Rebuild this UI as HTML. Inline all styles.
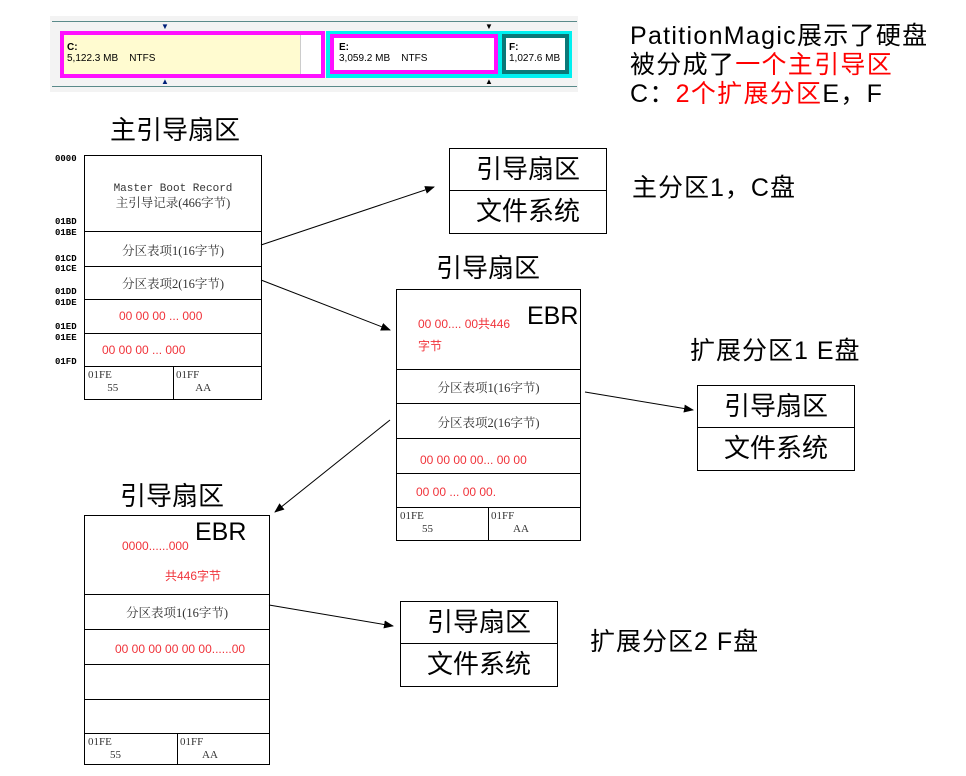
<!DOCTYPE html>
<html><head><meta charset="utf-8"><style>
*{margin:0;padding:0;box-sizing:border-box}
body{width:966px;height:776px;background:#fff;position:relative;overflow:hidden;font-family:"Liberation Sans","Noto Sans CJK SC",sans-serif;color:#000}
.a{position:absolute}
.box{position:absolute;border:1px solid #000;background:#fff}
.hl{position:absolute;left:0;right:0;border-top:1px solid #000}
.t{position:absolute;white-space:nowrap}
.s{font-family:"Liberation Serif","Noto Serif CJK SC",serif;font-size:12.5px;color:#333}
.r{color:#f0333a;font-size:12px}
.ad{font-family:"Liberation Mono",monospace;font-size:9px;font-weight:bold;position:absolute}
.big{font-size:26px}
.sb{position:absolute;border:1px solid #000;font-size:26px;text-align:center}
.sb div{height:42px;line-height:40px}
</style></head><body>
<!-- partition bar -->
<div class="a" style="left:50px;top:16px;width:528px;height:76px;background:#f3f3f3"></div>
<div class="a" style="left:52px;top:21px;width:525px;border-top:1px solid #5a8a8a"></div>
<div class="a" style="left:52px;top:86px;width:525px;border-top:1px solid #5a8a8a"></div>
<div class="a" style="left:60px;top:31px;width:265px;height:47px;border:4px solid #ff10ff;background:#fffbd0"></div>
<div class="a" style="left:300px;top:35px;width:21px;height:39px;background:#fff;border-left:1px solid #ccc"></div>
<div class="t" style="left:67px;top:42px;font-size:10px;line-height:11px"><b>C:</b><br>5,122.3 MB&nbsp;&nbsp;&nbsp; NTFS</div>
<div class="a" style="left:326px;top:31px;width:246px;height:47px;background:#00f0f0"></div>
<div class="a" style="left:330px;top:34px;width:168px;height:40px;border:4px solid #ff10ff;background:#fff"></div>
<div class="t" style="left:339px;top:42px;font-size:10px;line-height:11px"><b>E:</b><br>3,059.2 MB&nbsp;&nbsp;&nbsp; NTFS</div>
<div class="a" style="left:502px;top:34px;width:67px;height:40px;border:4px solid #0a7878;background:#fff"></div>
<div class="t" style="left:509px;top:42px;font-size:10px;line-height:11px"><b>F:</b><br>1,027.6 MB</div>
<div class="t" style="left:161px;top:22px;font-size:8px;color:#00207a">▼</div>
<div class="t" style="left:161px;top:77px;font-size:8px;color:#00207a">▲</div>
<div class="t" style="left:485px;top:22px;font-size:8px">▼</div>
<div class="t" style="left:485px;top:77px;font-size:8px">▲</div>

<!-- top right text -->
<div class="t" style="left:630px;top:22px;line-height:29px;font-size:25px;letter-spacing:1.3px">PatitionMagic展示了硬盘<br>被分成了<span style="color:#f00">一个主引导区</span><br>C：<span style="color:#f00">2个扩展分区</span>E，F</div>

<div class="t big" style="left:110px;top:110px">主引导扇区</div>
<div class="t big" style="left:436px;top:248px">引导扇区</div>
<div class="t big" style="left:120px;top:476px">引导扇区</div>

<!-- MBR -->
<div class="box" style="left:84px;top:155px;width:178px;height:245px">
<div class="hl" style="top:75px"></div><div class="hl" style="top:110px"></div><div class="hl" style="top:143px"></div><div class="hl" style="top:177px"></div><div class="hl" style="top:210px"></div>
<div class="a" style="left:88px;top:210px;height:34px;border-left:1px solid #000"></div>
<div class="t s" style="left:0;width:176px;text-align:center;top:24px;line-height:14px"><span style="font-family:'Liberation Mono',monospace;font-size:11px">Master Boot Record</span><br>主引导记录(466字节)</div>
<div class="t s" style="left:0;width:176px;text-align:center;top:85px">分区表项1(16字节)</div>
<div class="t s" style="left:0;width:176px;text-align:center;top:118px">分区表项2(16字节)</div>
<div class="t r" style="left:34px;top:153px">00 00 00 ... 000</div>
<div class="t r" style="left:17px;top:187px">00 00 00 ... 000</div>
<div class="t s" style="left:3px;top:213px;line-height:13px;font-size:11px">01FE<br>&nbsp;&nbsp;&nbsp;&nbsp;&nbsp;&nbsp;&nbsp;55</div>
<div class="t s" style="left:91px;top:213px;line-height:13px;font-size:11px">01FF<br>&nbsp;&nbsp;&nbsp;&nbsp;&nbsp;&nbsp;&nbsp;AA</div>
</div>
<div class="ad" style="left:55px;top:154px">0000</div>
<div class="ad" style="left:55px;top:217px">01BD</div>
<div class="ad" style="left:55px;top:228px">01BE</div>
<div class="ad" style="left:55px;top:254px">01CD</div>
<div class="ad" style="left:55px;top:264px">01CE</div>
<div class="ad" style="left:55px;top:287px">01DD</div>
<div class="ad" style="left:55px;top:298px">01DE</div>
<div class="ad" style="left:55px;top:322px">01ED</div>
<div class="ad" style="left:55px;top:333px">01EE</div>
<div class="ad" style="left:55px;top:357px">01FD</div>

<!-- EBR1 -->
<div class="box" style="left:396px;top:289px;width:185px;height:252px">
<div class="hl" style="top:79px"></div><div class="hl" style="top:113px"></div><div class="hl" style="top:148px"></div><div class="hl" style="top:183px"></div><div class="hl" style="top:217px"></div>
<div class="a" style="left:91px;top:217px;height:34px;border-left:1px solid #000"></div>
<div class="t r" style="left:21px;top:23px;line-height:22px">00 00.... 00共446<br>字节</div>
<div class="t" style="left:130px;top:12px;font-size:25px">EBR</div>
<div class="t s" style="left:0;width:183px;text-align:center;top:88px">分区表项1(16字节)</div>
<div class="t s" style="left:0;width:183px;text-align:center;top:123px">分区表项2(16字节)</div>
<div class="t r" style="left:23px;top:163px">00 00 00 00... 00 00</div>
<div class="t r" style="left:19px;top:195px">00 00 ... 00 00.</div>
<div class="t s" style="left:3px;top:220px;line-height:13px;font-size:11px">01FE<br>&nbsp;&nbsp;&nbsp;&nbsp;&nbsp;&nbsp;&nbsp;&nbsp;55</div>
<div class="t s" style="left:94px;top:220px;line-height:13px;font-size:11px">01FF<br>&nbsp;&nbsp;&nbsp;&nbsp;&nbsp;&nbsp;&nbsp;&nbsp;AA</div>
</div>

<!-- EBR2 -->
<div class="box" style="left:84px;top:515px;width:186px;height:250px">
<div class="hl" style="top:78px"></div><div class="hl" style="top:113px"></div><div class="hl" style="top:148px"></div><div class="hl" style="top:183px"></div><div class="hl" style="top:217px"></div>
<div class="a" style="left:92px;top:217px;height:32px;border-left:1px solid #000"></div>
<div class="t r" style="left:37px;top:23px">0000......000</div>
<div class="t r" style="left:80px;top:51px">共446字节</div>
<div class="t" style="left:110px;top:2px;font-size:25px">EBR</div>
<div class="t s" style="left:0;width:184px;text-align:center;top:87px">分区表项1(16字节)</div>
<div class="t r" style="left:30px;top:126px">00 00 00 00 00 00......00</div>
<div class="t s" style="left:3px;top:220px;line-height:13px;font-size:11px">01FE<br>&nbsp;&nbsp;&nbsp;&nbsp;&nbsp;&nbsp;&nbsp;&nbsp;55</div>
<div class="t s" style="left:95px;top:220px;line-height:13px;font-size:11px">01FF<br>&nbsp;&nbsp;&nbsp;&nbsp;&nbsp;&nbsp;&nbsp;&nbsp;AA</div>
</div>

<!-- small boxes -->
<div class="sb" style="left:449px;top:148px;width:158px;height:86px"><div style="border-bottom:1px solid #000">引导扇区</div><div>文件系统</div></div>
<div class="sb" style="left:697px;top:385px;width:158px;height:86px"><div style="border-bottom:1px solid #000">引导扇区</div><div>文件系统</div></div>
<div class="sb" style="left:400px;top:601px;width:158px;height:86px"><div style="border-bottom:1px solid #000">引导扇区</div><div>文件系统</div></div>

<div class="t" style="left:632px;top:168px;font-size:25px;letter-spacing:1px">主分区1，C盘</div>
<div class="t" style="left:690px;top:331px;font-size:25px;letter-spacing:1px">扩展分区1 E盘</div>
<div class="t" style="left:590px;top:622px;font-size:25px;letter-spacing:1px">扩展分区2 F盘</div>

<svg class="a" style="left:0;top:0" width="966" height="776">
<defs><marker id="m" markerWidth="10" markerHeight="8" refX="9" refY="4" orient="auto" markerUnits="userSpaceOnUse"><path d="M0,0 L10,4 L0,8 z" fill="#000"/></marker></defs>
<g stroke="#000" stroke-width="1" marker-end="url(#m)">
<line x1="261" y1="245" x2="434" y2="187"/>
<line x1="261" y1="280" x2="390" y2="330"/>
<line x1="585" y1="392" x2="693" y2="410"/>
<line x1="390" y1="420" x2="275" y2="512"/>
<line x1="269" y1="605" x2="393" y2="626"/>
</g>
</svg>
</body></html>
